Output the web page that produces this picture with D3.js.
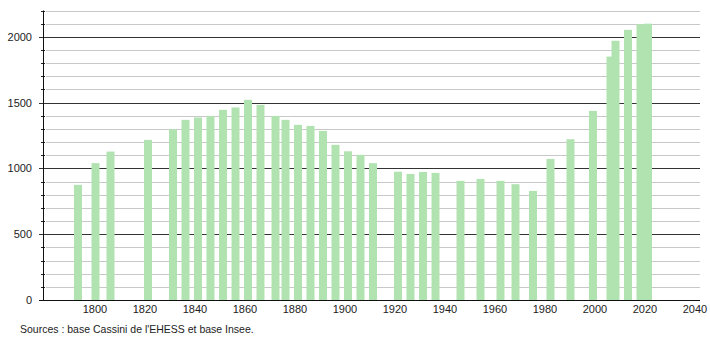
<!DOCTYPE html>
<html>
<head>
<meta charset="utf-8">
<script src="https://cdn.jsdelivr.net/npm/d3@7"></script>
<style>
  body { margin: 0; background: #fff; }
  text { font-family: "Liberation Sans", "DejaVu Sans", sans-serif; fill: #222; }
</style>
</head>
<body>
<svg id="chart" width="710" height="340"></svg>
<script>
// census years and population
const years = [1793, 1800, 1806, 1821, 1831, 1836, 1841, 1846, 1851, 1856, 1861, 1866, 1872, 1876,
  1881, 1886, 1891, 1896, 1901, 1906, 1911, 1921, 1926, 1931, 1936, 1946, 1954, 1962, 1968,
  1975, 1982, 1990, 1999, 2006, 2008, 2013, 2018, 2021];
const population = [875, 1040, 1128, 1217, 1298, 1369, 1387, 1399, 1445, 1463, 1521, 1483, 1399, 1369,
  1331, 1323, 1285, 1179, 1130, 1103, 1040, 975, 958, 973, 966, 905, 920, 905, 880,
  829, 1072, 1222, 1437, 1850, 1970, 2053, 2095, 2100];
const xTicks = [1800, 1820, 1840, 1860, 1880, 1900, 1920, 1940, 1960, 1980, 2000, 2020, 2040];
const yTicks = [0, 500, 1000, 1500, 2000];
const source = "Sources : base Cassini de l'EHESS et base Insee.";

const svg = d3.select('#chart');

const x = d3.scaleLinear().domain([1800, 2040]).range([95, 695]);
const y = d3.scaleLinear().domain([0, 2200]).range([300, 10.5]);
const left = 43, right = 700;

// minor grid every 100
const minor = d3.range(100, 2201, 100).filter(v => v % 500 !== 0);
svg.append('g').selectAll('line').data(minor).join('line')
  .attr('x1', left + 3).attr('x2', right)
  .attr('y1', d => Math.round(y(d)) + 0.5).attr('y2', d => Math.round(y(d)) + 0.5)
  .attr('stroke', '#c8c8c8').attr('stroke-width', 1);
// minor ticks across the axis
svg.append('g').selectAll('line').data(minor).join('line')
  .attr('x1', left - 2).attr('x2', left + 2)
  .attr('y1', d => Math.round(y(d)) + 0.5).attr('y2', d => Math.round(y(d)) + 0.5)
  .attr('stroke', '#222');

// major grid
svg.append('g').selectAll('line').data(yTicks.filter(v => v > 0)).join('line')
  .attr('x1', left - 4).attr('x2', right)
  .attr('y1', d => Math.round(y(d)) + 0.5).attr('y2', d => Math.round(y(d)) + 0.5)
  .attr('stroke', '#333');

// bars
svg.append('g').selectAll('rect').data(years).join('rect')
  .attr('x', d => x(d) - 3.5)
  .attr('width', 8)
  .attr('y', (d, i) => y(population[i]))
  .attr('height', (d, i) => y(0) - y(population[i]))
  .attr('fill', '#b1e3b1');

// axes
svg.append('line').attr('x1', left + 0.5).attr('x2', left + 0.5).attr('y1', y(2200)).attr('y2', 300)
  .attr('stroke', '#111');
svg.append('line').attr('x1', left - 4).attr('x2', right).attr('y1', 300.5).attr('y2', 300.5)
  .attr('stroke', '#111');

svg.append('g').selectAll('text').data(yTicks).join('text')
  .attr('x', 32).attr('y', d => y(d) + 4)
  .attr('text-anchor', 'end').attr('font-size', 11)
  .text(d => d);

svg.append('g').selectAll('text').data(xTicks).join('text')
  .attr('x', d => x(d)).attr('y', 313)
  .attr('text-anchor', 'middle').attr('font-size', 11)
  .text(d => d);

svg.append('text').attr('x', 20).attr('y', 333).attr('font-size', 10.5).text(source);
</script>
</body>
</html>
